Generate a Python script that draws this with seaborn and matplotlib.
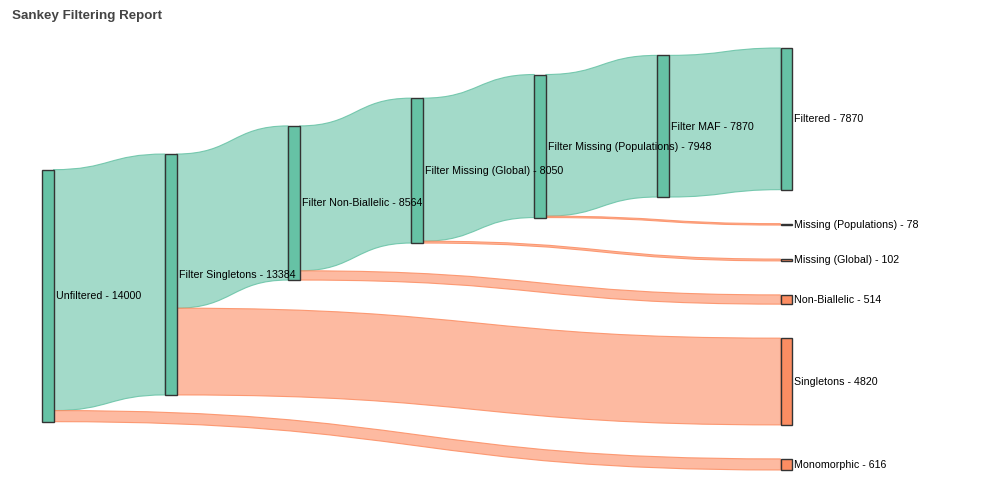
import numpy as np
import pandas as pd
import matplotlib
matplotlib.use("Agg")
import matplotlib.pyplot as plt
from matplotlib.path import Path
from matplotlib.patches import PathPatch, Rectangle
import seaborn as sns

# ---------------- data ----------------
node_labels = ["Unfiltered", "Filter Singletons", "Filter Non-Biallelic",
               "Filter Missing (Global)", "Filter Missing (Populations)", "Filter MAF",
               "Filtered", "Missing (Populations)", "Missing (Global)",
               "Non-Biallelic", "Singletons", "Monomorphic"]
node_kind = ["pass", "pass", "pass", "pass", "pass", "pass",
             "pass", "fail", "fail", "fail", "fail", "fail"]

link_source = ["Unfiltered", "Unfiltered",
               "Filter Singletons", "Filter Singletons",
               "Filter Non-Biallelic", "Filter Non-Biallelic",
               "Filter Missing (Global)", "Filter Missing (Global)",
               "Filter Missing (Populations)", "Filter Missing (Populations)",
               "Filter MAF"]
link_target = ["Filter Singletons", "Monomorphic",
               "Filter Non-Biallelic", "Singletons",
               "Filter Missing (Global)", "Non-Biallelic",
               "Filter Missing (Populations)", "Missing (Global)",
               "Filter MAF", "Missing (Populations)",
               "Filtered"]
link_value = [13384, 616, 8564, 4820, 8050, 514, 7948, 102, 7870, 78, 7870]
link_kind = ["pass", "fail", "pass", "fail", "pass", "fail",
             "pass", "fail", "pass", "fail", "pass"]

title = "Sankey Filtering Report"

# ---------------- style ----------------
sns.set_theme(style="white")
plt.rcParams["font.family"] = ["Liberation Sans", "DejaVu Sans"]
pal = sns.color_palette("Set2")
colors = {"pass": pal[0], "fail": pal[1]}

W, H = 1000, 500
X0, X1, Y0, Y1 = 42.0, 792.0, 48.0, 470.0
NODE_W = 11.5
PAD = 34.0
ITER = 32

# ---------------- sankey layout (d3-sankey 0.12 algorithm) ----------------
n = len(node_labels)
idx = {lab: i for i, lab in enumerate(node_labels)}
S = [idx[s] for s in link_source]
T = [idx[t] for t in link_target]
V = np.array(link_value, float)
L = len(V)
srcL = {i: [l for l in range(L) if S[l] == i] for i in range(n)}
tgtL = {i: [l for l in range(L) if T[l] == i] for i in range(n)}
value = np.array([max(V[srcL[i]].sum() if srcL[i] else 0,
                      V[tgtL[i]].sum() if tgtL[i] else 0) for i in range(n)])

depth = np.zeros(n, int)
rem = list(range(n))
d = 0
while rem:
    nx = []
    for i in rem:
        depth[i] = d
        for l in srcL[i]:
            if T[l] not in nx:
                nx.append(T[l])
    rem = nx
    d += 1
ncol = d
layer = np.array([depth[i] if srcL[i] else ncol - 1 for i in range(n)])
kx = (X1 - X0 - NODE_W) / (ncol - 1)
x0 = X0 + layer * kx
x1 = x0 + NODE_W

cols = [[i for i in range(n) if layer[i] == c] for c in range(ncol)]
py = min(PAD, (Y1 - Y0) / (max(len(c) for c in cols) - 1))
ky = min((Y1 - Y0 - (len(c) - 1) * py) / value[c].sum() for c in cols)
y0 = np.zeros(n)
y1 = np.zeros(n)
w = V * ky
sl = {i: list(srcL[i]) for i in range(n)}
tl = {i: list(tgtL[i]) for i in range(n)}


def sort_src(i):
    sl[i].sort(key=lambda l: (y0[T[l]], l))


def sort_tgt(i):
    tl[i].sort(key=lambda l: (y0[S[l]], l))


for c in cols:
    y = Y0
    for i in c:
        y0[i] = y
        y1[i] = y + value[i] * ky
        y = y1[i] + py
    y = (Y1 - y + py) / (len(c) + 1)
    for k, i in enumerate(c):
        y0[i] += y * (k + 1)
        y1[i] += y * (k + 1)
    for i in c:
        sort_src(i)
        sort_tgt(i)


def reorder_node(i):
    for l in tl[i]:
        sort_src(S[l])
    for l in sl[i]:
        sort_tgt(T[l])


def source_top(s, t):
    y = y0[t] - (len(tl[t]) - 1) * py / 2
    for l in tl[t]:
        if S[l] == s:
            break
        y += w[l] + py
    for l in sl[s]:
        if T[l] == t:
            break
        y -= w[l]
    return y


def target_top(s, t):
    y = y0[s] - (len(sl[s]) - 1) * py / 2
    for l in sl[s]:
        if T[l] == t:
            break
        y += w[l] + py
    for l in tl[t]:
        if S[l] == s:
            break
        y -= w[l]
    return y


def top_to_bottom(nodes, y, i, a):
    while i < len(nodes):
        nd = nodes[i]
        dy = (y - y0[nd]) * a
        if dy > 1e-6:
            y0[nd] += dy
            y1[nd] += dy
        y = y1[nd] + py
        i += 1


def bottom_to_top(nodes, y, i, a):
    while i >= 0:
        nd = nodes[i]
        dy = (y1[nd] - y) * a
        if dy > 1e-6:
            y0[nd] -= dy
            y1[nd] -= dy
        y = y0[nd] - py
        i -= 1


def resolve(nodes, a):
    i = len(nodes) >> 1
    sub = nodes[i]
    bottom_to_top(nodes, y0[sub] - py, i - 1, a)
    top_to_bottom(nodes, y1[sub] + py, i + 1, a)
    bottom_to_top(nodes, Y1, len(nodes) - 1, a)
    top_to_bottom(nodes, Y0, 0, a)


for it in range(ITER):
    alpha = 0.99 ** it
    beta = max(1 - alpha, (it + 1) / ITER)
    for ci in range(ncol - 2, -1, -1):
        c = cols[ci]
        for s in c:
            yy = ww = 0.0
            for l in sl[s]:
                t = T[l]
                v = V[l] * (layer[t] - layer[s])
                yy += source_top(s, t) * v
                ww += v
            if ww > 0:
                dy = (yy / ww - y0[s]) * alpha
                y0[s] += dy
                y1[s] += dy
                reorder_node(s)
        c.sort(key=lambda i: y0[i])
        resolve(c, beta)
    for ci in range(1, ncol):
        c = cols[ci]
        for t in c:
            yy = ww = 0.0
            for l in tl[t]:
                s = S[l]
                v = V[l] * (layer[t] - layer[s])
                yy += target_top(s, t) * v
                ww += v
            if ww > 0:
                dy = (yy / ww - y0[t]) * alpha
                y0[t] += dy
                y1[t] += dy
                reorder_node(t)
        c.sort(key=lambda i: y0[i])
        resolve(c, beta)

ly0 = np.zeros(L)
ly1 = np.zeros(L)
for i in range(n):
    sort_src(i)
    sort_tgt(i)
    yy = y0[i]
    for l in sl[i]:
        ly0[l] = yy + w[l] / 2
        yy += w[l]
    yy = y0[i]
    for l in tl[i]:
        ly1[l] = yy + w[l] / 2
        yy += w[l]

# ---------------- draw ----------------
fig = plt.figure(figsize=(W / 100, H / 100), dpi=100)
ax = fig.add_axes([0, 0, 1, 1])
ax.set_xlim(0, W)
ax.set_ylim(H, 0)
ax.axis("off")

for l in range(L):
    s, t = S[l], T[l]
    xa, xb = x1[s], x0[t]
    xm = (xa + xb) / 2
    ta, tb = ly0[l] - w[l] / 2, ly1[l] - w[l] / 2
    ba, bb = ly0[l] + w[l] / 2, ly1[l] + w[l] / 2
    verts = [(xa, ta), (xm, ta), (xm, tb), (xb, tb), (xb, bb),
             (xm, bb), (xm, ba), (xa, ba), (xa, ta)]
    codes = [Path.MOVETO, Path.CURVE4, Path.CURVE4, Path.CURVE4, Path.LINETO,
             Path.CURVE4, Path.CURVE4, Path.CURVE4, Path.CLOSEPOLY]
    c = colors[link_kind[l]]
    ax.add_patch(PathPatch(Path(verts, codes), facecolor=(*c, 0.6),
                           edgecolor=(*c, 0.85), lw=0.8, zorder=2))

for k in range(n):
    ax.add_patch(Rectangle((x0[k], y0[k]), NODE_W, y1[k] - y0[k],
                           facecolor=colors[node_kind[k]], edgecolor="#333333",
                           lw=1.0, zorder=3))
for k in range(n):
    ax.text(x1[k] + 2.5, (y0[k] + y1[k]) / 2 + 0.5, f"{node_labels[k]} - {int(value[k])}",
            ha="left", va="center", fontsize=7.7, color="#000000", zorder=5)

fig.text(12 / W, 1 - 16 / H, title, ha="left", va="center",
         fontsize=9.6, fontweight="bold", color="#444444")

fig.savefig("out.png", dpi=100)
